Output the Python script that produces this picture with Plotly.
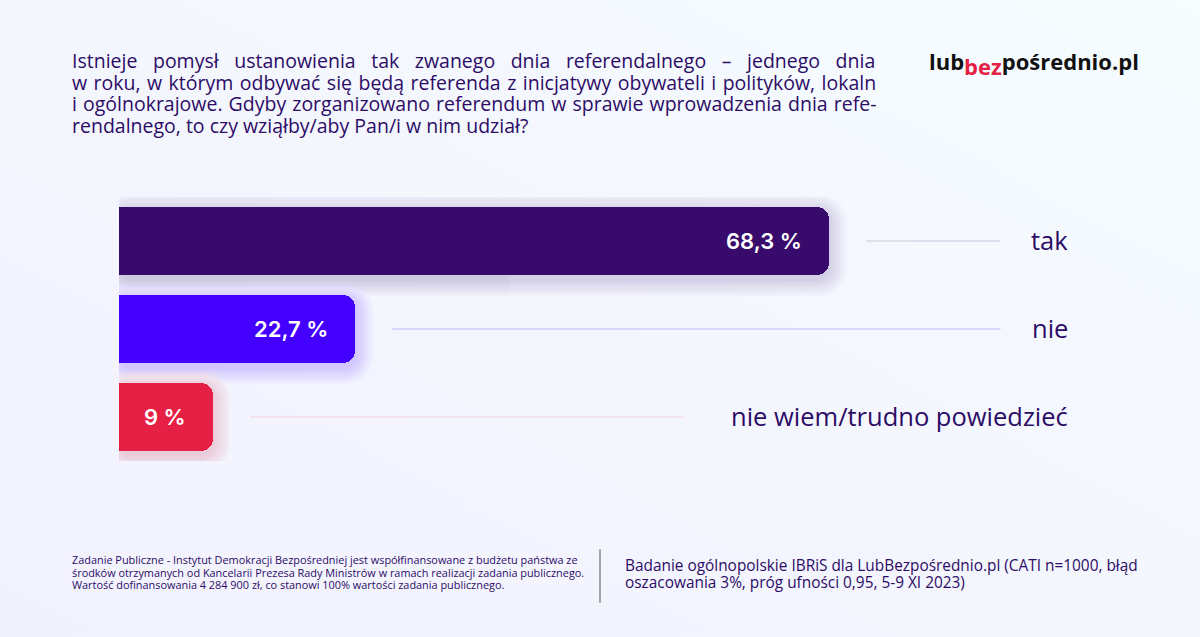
import base64
import plotly.graph_objects as go

# data
categories = ["tak", "nie", "nie wiem/trudno powiedzieć"]
values = [68.3, 22.7, 9.0]
bar_colors = ["#370a6b", "#4400ff", "#e61f45"]
line_colors = ["#c9c3da", "#c3b5ff", "#f5d0e1"]

title_lines = [
    "Istnieje pomysł ustanowienia tak zwanego dnia referendalnego – jednego dnia",
    "w roku, w którym odbywać się będą referenda z inicjatywy obywateli i polityków, lokaln",
    "i ogólnokrajowe. Gdyby zorganizowano referendum w sprawie wprowadzenia dnia refe-",
    "rendalnego, to czy wziąłby/aby Pan/i w nim udział?",
]
footer_left = [
    "Zadanie Publiczne - Instytut Demokracji Bezpośredniej jest współfinansowane z budżetu państwa ze",
    "środków otrzymanych od Kancelarii Prezesa Rady Ministrów w ramach realizacji zadania publicznego.",
    "Wartość dofinansowania 4 284 900 zł, co stanowi 100% wartości zadania publicznego.",
]
footer_right = [
    "Badanie ogólnopolskie IBRiS dla LubBezpośrednio.pl (CATI n=1000, błąd",
    "oszacowania 3%, próg ufności 0,95, 5-9 XI 2023)",
]

W, H = 1200, 637
ML, MR, MT, MB = 119, 0, 197, 176
XMAX = 104
PW = W - ML - MR
PH = H - MT - MB
UNIT = PW / XMAX  # px per x unit

def px(x):
    return (x - ML) / PW

def py(y):
    return (H - MB - y) / PH

TXT = "#2d0c66"
FONT = "Open Sans"

def text_block(lines, size, pitch, spacing=None):
    # glyphs at `size`, lines `pitch` px apart (plotly spaces lines at 1.3 em of the base font)
    spacing = spacing or [0] * len(lines)
    body = "<br>".join(f"<span style='font-size:{size}px;word-spacing:{ws}px'>{t}</span>"
                       for t, ws in zip(lines, spacing))
    return body, pitch / 1.3

ypos = list(range(len(categories)))
line_end = [84.8, 84.8, 54.3]
label_x = (1070 - ML) / PW * XMAX

fig = go.Figure()

# soft glow behind the bars
for k in range(1, 9):
    grow = 2.2 * k / UNIT
    fig.add_trace(go.Bar(
        x=[v + 2 * grow for v in values], base=[-grow] * 3,
        y=[p + 4 / 88 for p in ypos], orientation="h", width=0.765 + 4.4 * k / 88,
        marker=dict(color=bar_colors, cornerradius=12 + 2 * k, line=dict(width=0)),
        opacity=0.018, hoverinfo="skip", showlegend=False))

fig.add_trace(go.Bar(
    x=values, y=ypos, orientation="h", width=0.765,
    marker=dict(color=bar_colors, cornerradius=12, line=dict(width=0)),
    hoverinfo="skip", showlegend=False))

for p, v, le, lc, cat in zip(ypos, values, line_end, line_colors, categories):
    fig.add_trace(go.Scatter(x=[v + 3.6, le], y=[p, p], mode="lines",
                             line=dict(color=lc, width=1.2), hoverinfo="skip", showlegend=False))
    lbl = (f"{v:.1f}".rstrip("0").rstrip(".")).replace(".", ",") + " %"
    fig.add_annotation(x=v, y=p, xref="x", yref="y", text=lbl, xanchor="right", xshift=-25,
                       showarrow=False, font=dict(family="Inter", size=22, color="white", weight=600))
    fig.add_annotation(x=label_x, y=p, xref="x", yref="y", text=cat, xanchor="right", yshift=1,
                       showarrow=False, font=dict(family=FONT, size=25.5, color=TXT))

# title, justified lines via word spacing
body, base = text_block(title_lines, 19.5, 21.7, [10.5, 1.4, 1.0, 0])
fig.add_annotation(x=px(70), y=py(92.5), xref="paper", yref="paper", text=body,
                   xanchor="left", yanchor="middle", align="left", showarrow=False,
                   font=dict(family=FONT, size=base, color=TXT))
# logo
fig.add_annotation(x=px(927), y=py(63), xref="paper", yref="paper",
                   text="lub<span style='color:#e61f45;baseline-shift:-5px'>bez</span>pośrednio.pl",
                   xanchor="left", yanchor="middle", showarrow=False,
                   font=dict(family="Open Sans", size=22, color="#111111", weight="bold"))
# footers
body, base = text_block(footer_left, 10.9, 12.5)
fig.add_annotation(x=px(70), y=py(571.5), xref="paper", yref="paper", text=body,
                   xanchor="left", yanchor="middle", align="left", showarrow=False,
                   font=dict(family=FONT, size=base, color=TXT))
body, base = text_block(footer_right, 15.4, 17)
fig.add_annotation(x=px(623), y=py(573.5), xref="paper", yref="paper", text=body,
                   xanchor="left", yanchor="middle", align="left", showarrow=False,
                   font=dict(family=FONT, size=base, color=TXT))
fig.add_shape(type="line", xref="paper", yref="paper", x0=px(600), x1=px(600), y0=py(549), y1=py(603),
              line=dict(color="#555555", width=1))

# background gradient (lavender bottom-left -> pale cyan top-right)
svg = (f"<svg xmlns='http://www.w3.org/2000/svg' width='{W}' height='{H}'>"
       "<defs><linearGradient id='g' x1='0' y1='1' x2='1' y2='0'>"
       "<stop offset='0' stop-color='#f2f2fe'/><stop offset='0.5' stop-color='#f4f6fe'/>"
       "<stop offset='1' stop-color='#f5fdff'/></linearGradient></defs>"
       f"<rect width='{W}' height='{H}' fill='url(#g)'/></svg>")
fig.add_layout_image(source="data:image/svg+xml;base64," + base64.b64encode(svg.encode()).decode(),
                     xref="paper", yref="paper", x=px(0), y=py(0), sizex=W / PW, sizey=H / PH,
                     xanchor="left", yanchor="top", sizing="stretch", layer="below")

fig.update_layout(
    width=W, height=H, margin=dict(l=ML, r=MR, t=MT, b=MB),
    paper_bgcolor="#f3f5fe", plot_bgcolor="rgba(0,0,0,0)",
    barmode="overlay", bargap=0,
    xaxis=dict(range=[0, XMAX], visible=False, fixedrange=True),
    yaxis=dict(range=[2.5, -0.5], visible=False, fixedrange=True),
)

fig.write_html("out.html", config={"displayModeBar": False},
               post_script="document.body.style.margin='0';document.body.style.background='#f3f5fe';")
